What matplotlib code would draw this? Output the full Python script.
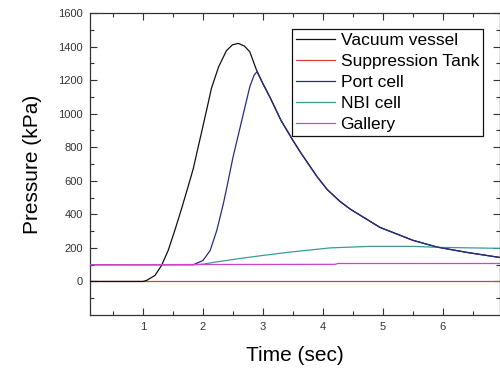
import matplotlib
matplotlib.use("Agg")
from matplotlib import pyplot as plt
from matplotlib.ticker import FixedLocator, MultipleLocator

plt.rcParams['font.family'] = ['Liberation Sans', 'DejaVu Sans']

# time (sec) / pressure (kPa)
vacuum_t = [0.12, 1.0, 1.06, 1.2, 1.31, 1.42, 1.53, 1.64, 1.76, 1.84, 1.9, 1.98, 2.06, 2.14, 2.26,
            2.39, 2.49, 2.59, 2.69, 2.78, 2.89,
            3.0, 3.12, 3.3, 3.5, 3.62, 3.9, 4.07, 4.28, 4.45, 4.95, 5.5, 5.9, 6.4, 7.0]
vacuum_p = [0, 0, 6, 36, 96, 185, 304, 430, 575, 675, 770, 895, 1021, 1150, 1279,
            1375, 1410, 1419, 1403, 1369, 1262,
            1178, 1095, 960, 840, 772, 625, 548, 478, 432, 322, 245, 205, 173, 140]

suppression_t = [0.12, 7.0]
suppression_p = [0, 0]

port_t = [0.12, 1.84, 2.0, 2.12, 2.23, 2.34, 2.42, 2.5, 2.62, 2.7, 2.78, 2.85, 2.9,
          3.0, 3.12, 3.3, 3.5, 3.62, 3.9, 4.07, 4.28, 4.45, 4.95, 5.5, 5.9, 6.4, 7.0]
port_p = [100, 100, 125, 185, 304, 464, 600, 740, 920, 1040, 1160, 1228, 1250,
          1178, 1095, 960, 840, 772, 625, 548, 478, 432, 322, 245, 205, 173, 140]

nbi_t = [0.12, 1.84, 2.0, 2.2, 2.62, 3.0, 3.45, 4.12, 4.78, 5.5, 5.95, 7.0]
nbi_p = [100, 100, 103, 115, 137, 155, 175, 200, 209, 209, 203, 197]

gallery_t = [0.12, 4.2, 4.25, 7.0]
gallery_p = [100, 102, 107, 107]

fig = plt.figure(figsize=(5, 3.68), dpi=100)
ax = fig.add_axes([0.18, 0.144, 0.82, 0.8207])

ax.plot(vacuum_t, vacuum_p, color='#111111', lw=0.9, label='Vacuum vessel', zorder=3)
ax.plot(suppression_t, suppression_p, color='#cc4444', lw=0.9, label='Suppression Tank', zorder=2)
ax.plot(port_t, port_p, color='#2a2a88', lw=0.9, label='Port cell', zorder=4)
ax.plot(nbi_t, nbi_p, color='#3d9999', lw=0.9, label='NBI cell', zorder=3)
ax.plot(gallery_t, gallery_p, color='#cc44cc', lw=0.9, label='Gallery', zorder=5)

ax.set_xlim(0.117, 6.95)
ax.set_ylim(-200, 1600)
ax.xaxis.set_major_locator(FixedLocator([1, 2, 3, 4, 5, 6, 7]))
ax.xaxis.set_minor_locator(MultipleLocator(0.5))
ax.yaxis.set_major_locator(FixedLocator(list(range(0, 1601, 200))))
ax.yaxis.set_minor_locator(FixedLocator(list(range(-100, 1600, 200))))

ax.tick_params(which='both', direction='in', top=True, right=True, colors='#333333',
               labelsize=8, width=0.8)
ax.tick_params(which='major', length=5, pad=5)
ax.tick_params(which='minor', length=3)
for s in ax.spines.values():
    s.set_color('#333333')
    s.set_linewidth(0.9)

ax.set_xlabel('Time (sec)', fontsize=15, labelpad=10)
ax.set_ylabel('Pressure (kPa)', fontsize=15, labelpad=12)

leg = ax.legend(loc='upper left', bbox_to_anchor=(292 / 500, 1 - 29 / 368),
                bbox_transform=fig.transFigure, borderaxespad=0, fontsize=12.5,
                labelspacing=0.33, handlelength=2.2, handletextpad=0.35,
                borderpad=0.25, fancybox=False, framealpha=1)
leg.get_frame().set_edgecolor('#111111')
leg.get_frame().set_linewidth(0.9)

fig.savefig('out.png', dpi=100)
